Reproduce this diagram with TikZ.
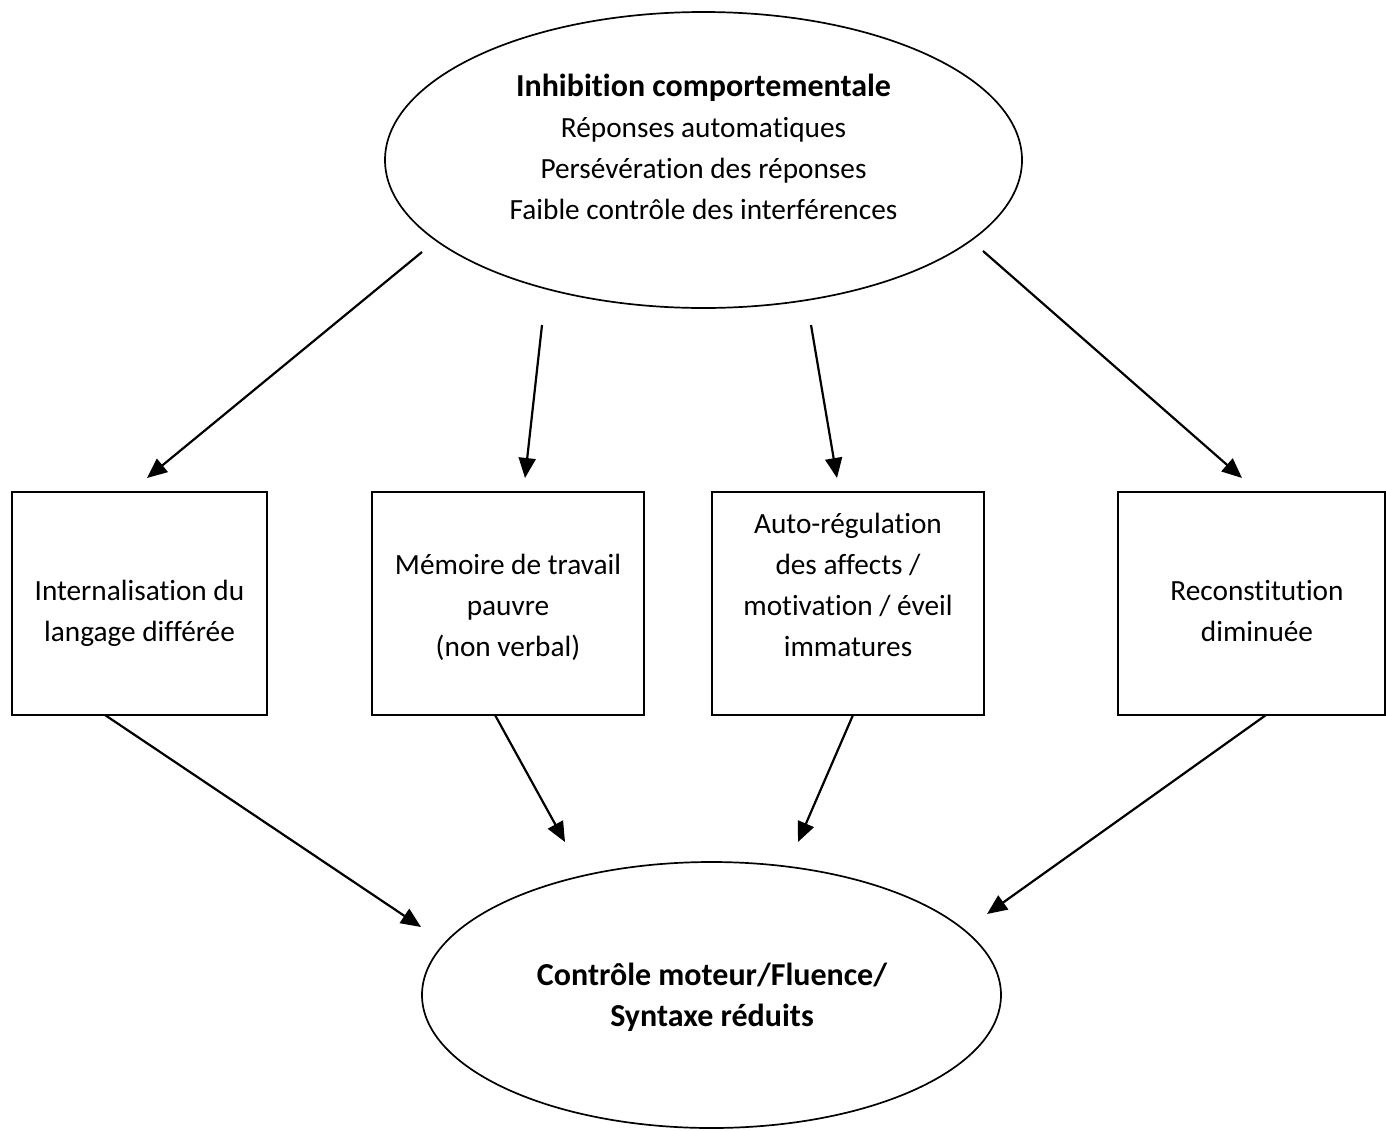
\documentclass[tikz,border=0pt]{standalone}
\usepackage{fontspec}
\setmainfont{Carlito}[Ligatures={NoCommon}]
\usetikzlibrary{shapes.geometric,arrows.meta}
\newcommand{\bigbold}[1]{{\fontsize{32}{41}\selectfont\bfseries #1}}
\tikzset{
  oval/.style={draw, ellipse, line width=1.7pt, inner sep=0pt},
  boxnode/.style={draw, rectangle, line width=2pt, inner sep=0pt},
  lbl/.style={align=center, anchor=base, inner sep=0pt, font=\fontsize{29.3}{41}\selectfont},
  arr/.style={line width=2.2pt, -{Triangle[length=20pt,width=17pt]}}
}
\begin{document}
\begin{tikzpicture}[x=1pt,y=-1pt]
\useasboundingbox[fill=white] (0,0) rectangle (1386,1130);
% ellipses
\node[oval, minimum width=637pt, minimum height=296pt] (top) at (703.5,160) {};
\node[oval, minimum width=579pt, minimum height=266pt] (bot) at (711.5,995) {};
% boxes
\node[boxnode, minimum width=255pt, minimum height=223pt] (b1) at (139.5,603.5) {};
\node[boxnode, minimum width=272pt, minimum height=223pt] (b2) at (508,603.5) {};
\node[boxnode, minimum width=272pt, minimum height=223pt] (b3) at (848,603.5) {};
\node[boxnode, minimum width=267pt, minimum height=223pt] (b4) at (1251.5,603.5) {};
% texts (anchored at the baseline of the last line)
\node[lbl] (ttop) at (703.5,219) {\bigbold{Inhibition comportementale}\\Réponses automatiques\\Persévération des réponses\\Faible contrôle des interférences};
\node[lbl] (tbot) at (712,1026) {\bigbold{Contrôle moteur/Fluence/}\\\bigbold{Syntaxe réduits}};
\node[lbl] (t1) at (139.5,641) {Internalisation du\\langage différée};
\node[lbl] (t2) at (508,656) {Mémoire de travail\\pauvre\\(non verbal)};
\node[lbl] (t3) at (848,656) {Auto-régulation\\des affects /\\motivation / éveil\\immatures};
\node[lbl] (t4) at (1257,641) {Reconstitution\\diminuée};
% arrow end points
\coordinate (s1) at (422,252); \coordinate (e1) at (147,478);
\coordinate (s2) at (542,325); \coordinate (e2) at (525,478);
\coordinate (s3) at (811,325); \coordinate (e3) at (837,478);
\coordinate (s4) at (983,251); \coordinate (e4) at (1242,478);
\coordinate (u1) at (105,715); \coordinate (v1) at (421,927);
\coordinate (u2) at (495,715); \coordinate (v2) at (565,842);
\coordinate (u3) at (853,715); \coordinate (v3) at (798,842);
\coordinate (u4) at (1266,715); \coordinate (v4) at (987,914);
\draw[arr] (s1) -- (e1);
\draw[arr] (s2) -- (e2);
\draw[arr] (s3) -- (e3);
\draw[arr] (s4) -- (e4);
\draw[arr] (u1) -- (v1);
\draw[arr] (u2) -- (v2);
\draw[arr] (u3) -- (v3);
\draw[arr] (u4) -- (v4);
\end{tikzpicture}
\end{document}
